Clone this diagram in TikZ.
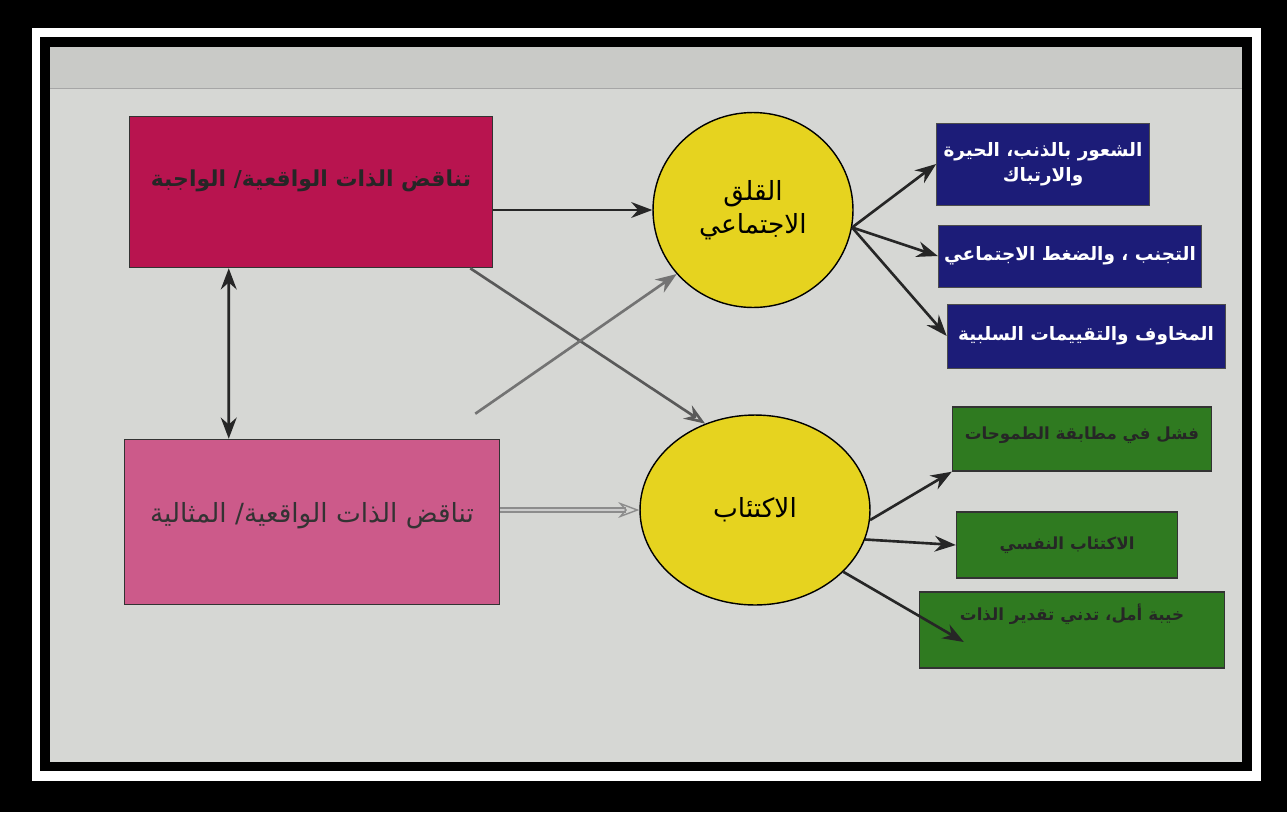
\documentclass[tikz,border=0pt]{standalone}
\usepackage{fontspec}
\usepackage{tikz}
\usetikzlibrary{shapes.geometric}
\usetikzlibrary{arrows.meta}
\usetikzlibrary{calc}
\newfontfamily\arabicfont[Script=Arabic]{DejaVu Sans}
\TeXXeTstate=1
\newcommand{\artxt}[1]{{\arabicfont\beginR #1\endR}}

\definecolor{oughtcol}{HTML}{B8144F}
\definecolor{idealcol}{HTML}{CC5A8A}
\definecolor{circcol}{HTML}{E6D31F}
\definecolor{bluecol}{HTML}{1C1C78}
\definecolor{greencol}{HTML}{2F7A20}
\definecolor{papercol}{HTML}{D6D7D4}

\tikzset{
  pinkbox/.style={draw=black!80, line width=0.9pt, minimum width=#1},
  circnode/.style={ellipse, draw=black, line width=0.8pt, fill=circcol, font=\fontsize{15}{19}\selectfont, align=center},
  bluebox/.style={draw=black!70, fill=bluecol, text=white, font=\bfseries\fontsize{10.5}{14}\selectfont, align=center},
  greenbox/.style={draw=black!80, line width=0.8pt, fill=greencol, text=black!85, font=\bfseries\fontsize{9.5}{13}\selectfont, align=center},
  arr/.style={-{Stealth[length=12pt,width=9pt]}, line width=1.5pt, draw=black!85},
  greyarr/.style={-{Stealth[length=12pt,width=9pt,open]}, line width=1.5pt, draw=black!60},
}

\begin{document}
\begin{tikzpicture}[x=0.02cm, y=-0.02cm]
  \useasboundingbox (0,0) rectangle (1287,812);
  % frame and photo
  \fill[black] (0,0) rectangle (1287,812);
  \fill[white] (32,28) rectangle (1261,781);
  \fill[black] (40,37) rectangle (1252,771);
  \fill[papercol] (50,47) rectangle (1242,762);
  \fill[papercol!94!black] (50,47) rectangle (1242,88);
  \draw[black!35] (50,88) -- (1242,88);

  % left boxes
  \node[pinkbox=7.26cm, minimum height=3.02cm, fill=oughtcol, text=black!85, font=\bfseries\fontsize{12.5}{16}\selectfont] (ought) at (311,192)
    {\raisebox{0.55cm}{\artxt{تناقض الذات الواقعية/ الواجبة}}};
  \node[pinkbox=7.5cm, minimum height=3.3cm, fill=idealcol, text=black!80, font=\fontsize{15}{18}\selectfont] (ideal) at (312,522)
    {\raisebox{0.4cm}{\artxt{تناقض الذات الواقعية/ المثالية}}};

  % circles
  \node[circnode, minimum width=4cm, minimum height=3.9cm] (anxiety) at (753,210)
    {\artxt{القلق}\\\artxt{الاجتماعي}};
  \node[circnode, minimum width=4.6cm, minimum height=3.8cm] (depress) at (755,510)
    {\artxt{الاكتئاب}};

  % right boxes
  \node[bluebox, minimum width=4.26cm, minimum height=1.64cm] (guilt) at (1043,164)
    {\artxt{الشعور بالذنب، الحيرة}\\\artxt{والارتباك}};
  \node[bluebox, minimum width=5.08cm, minimum height=1.24cm] (avoid) at (1070,256)
    {\artxt{التجنب ، والضغط الاجتماعي}};
  \node[bluebox, minimum width=5.56cm, minimum height=1.28cm] (fear) at (1086,336)
    {\artxt{المخاوف والتقييمات السلبية}};
  \node[greenbox, minimum width=5.18cm, minimum height=1.28cm] (fail) at (1082,439)
    {\raisebox{0.25cm}{\artxt{فشل في مطابقة الطموحات}}};
  \node[greenbox, minimum width=4.42cm, minimum height=1.32cm] (dep) at (1067,545)
    {\artxt{الاكتئاب النفسي}};
  \node[greenbox, minimum width=6.1cm, minimum height=1.52cm] (hope) at (1072,630)
    {\raisebox{0.7cm}{\artxt{خيبة أمل، تدني تقدير الذات}}};

  % connectors
  \draw[arr] (ought.east |- anxiety.west) -- (anxiety.west);
  \draw[{Stealth[length=12pt,width=9pt]}-{Stealth[length=12pt,width=9pt]}, line width=1.5pt, draw=black!85]
    ($(ought.south west)+(100,0)$) -- ($(ideal.north west)+(105,0)$);
  \draw[greyarr, draw=black!65] ($(ought.south east)+(-23,0)$) -- (depress.120);
  \draw[arr, draw=black!55] ($(ideal.north east)+(-25,-25)$) -- (anxiety.220);
  \draw[greyarr, draw=black!45, double=black!20, double distance=1.5pt, line width=0.8pt] (ideal.east |- depress.west) -- (depress.west);
  \draw[arr] (anxiety.-10) -- (guilt.west);
  \draw[arr] (anxiety.-10) -- (avoid.west);
  \draw[arr] (anxiety.-10) -- (fear.west);
  \draw[arr] (depress.-5) -- (fail.south west);
  \draw[arr] (depress.-15) -- (dep.west);
  \draw[arr] (depress.-35) -- ($(hope.west)+(45,12)$);
\end{tikzpicture}
\end{document}
